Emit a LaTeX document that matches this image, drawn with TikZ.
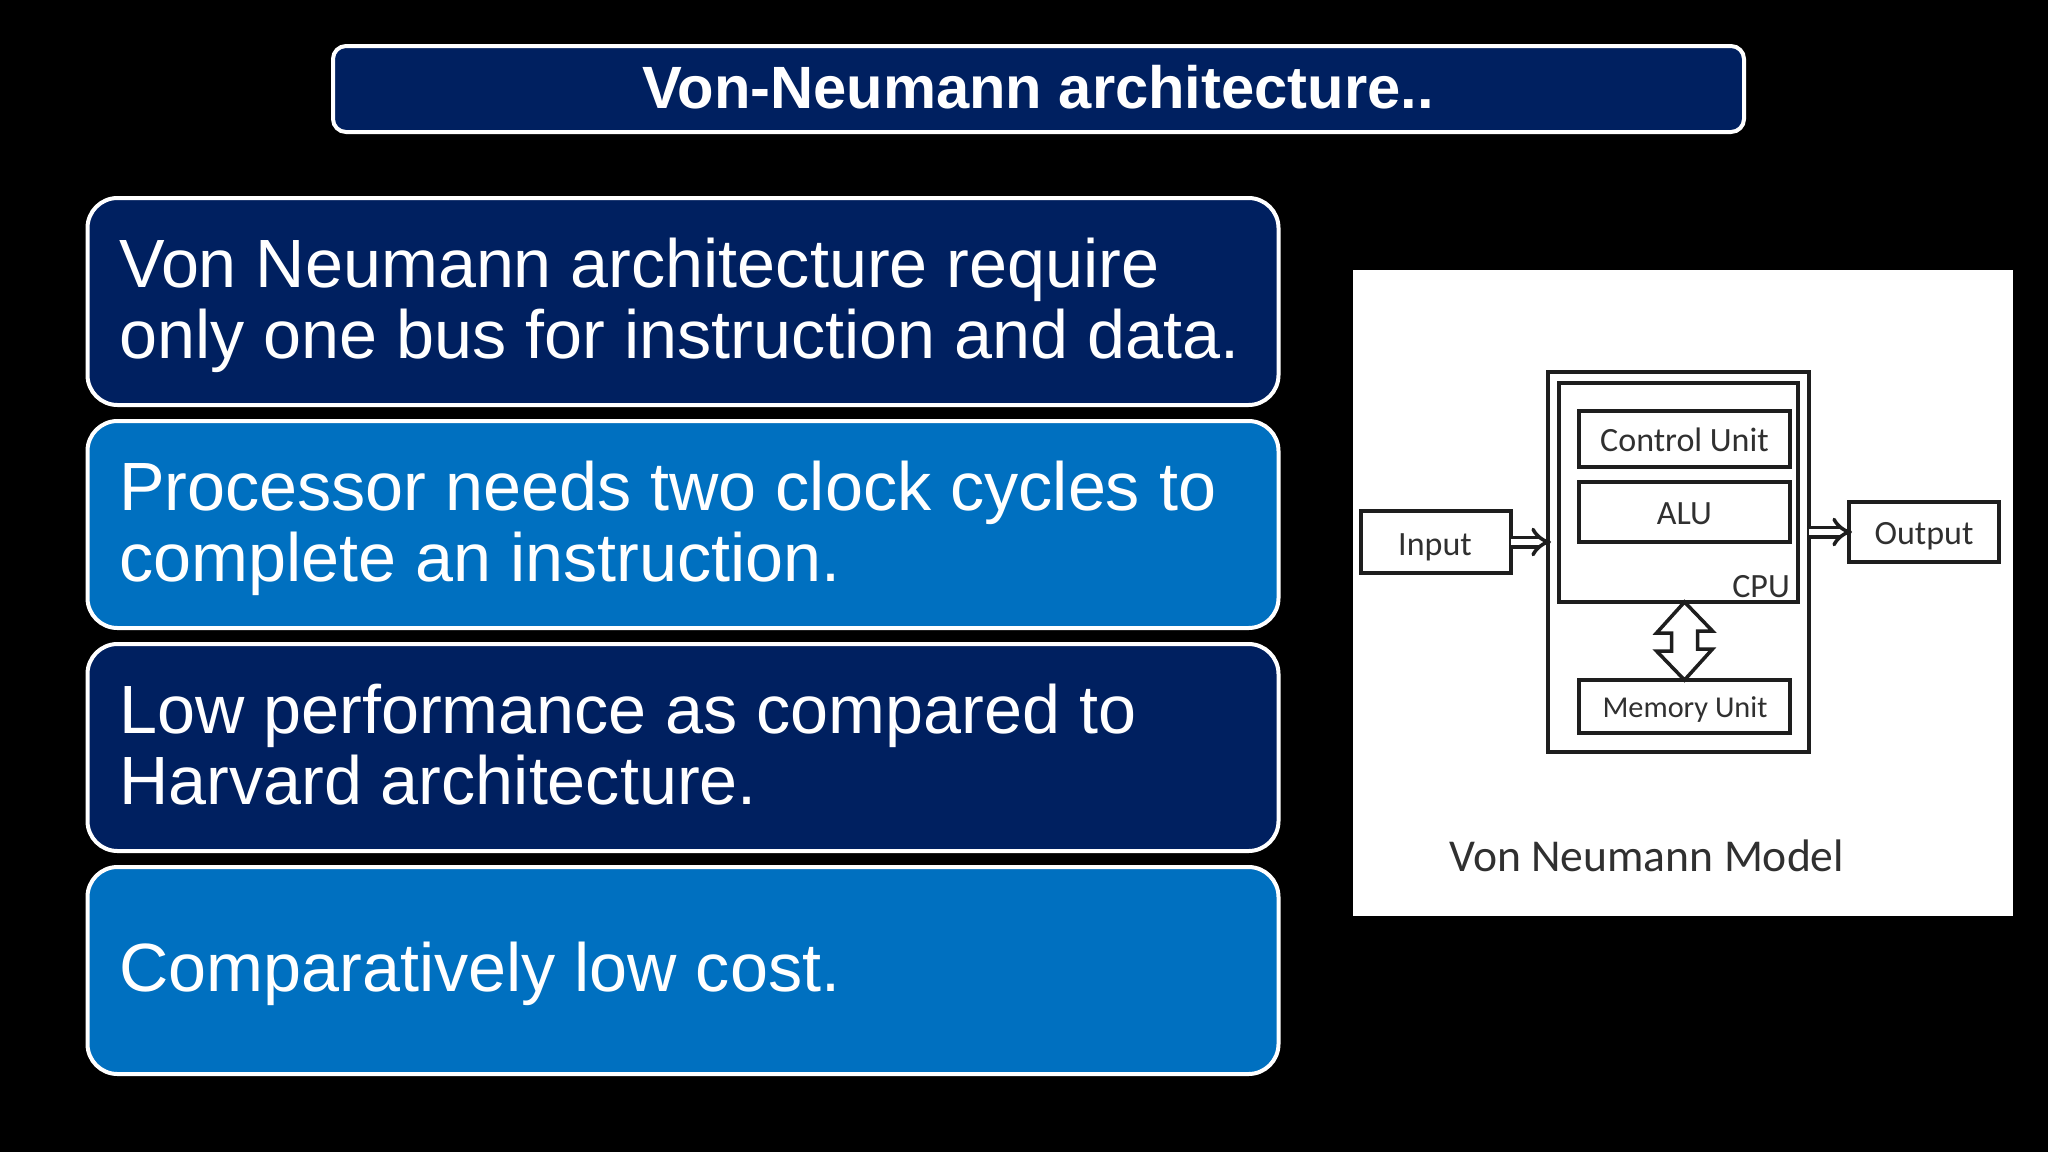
\documentclass[tikz,border=0pt]{standalone}
\usepackage{fontspec}
\setmainfont{Liberation Sans}
\newfontfamily\figfont{Carlito}
\usetikzlibrary{arrows.meta}
\definecolor{navy}{HTML}{002060}
\definecolor{midblue}{HTML}{0070C0}
\definecolor{figink}{HTML}{1E1E1E}
\definecolor{figtext}{HTML}{303030}
\tikzset{
  x=1pt,y=-1pt,
  panel/.style={draw=white,line width=4pt,rounded corners=30pt,inner sep=0pt,outer sep=0pt,minimum width=1191pt,minimum height=207pt},
  navypanel/.style={panel,fill=navy},
  bluepanel/.style={panel,fill=midblue},
  titlebox/.style={draw=white,line width=4pt,rounded corners=13pt,fill=navy,inner sep=0pt,outer sep=0pt,minimum width=1411pt,minimum height=86pt},
  paneltext/.style={text=white,anchor=base west,inner sep=0pt,align=left,font=\fontsize{68.3}{71.5}\selectfont},
  figbox/.style={draw=figink,line width=3.5pt,fill=white,inner sep=0pt,outer sep=0pt},
  figlabel/.style={text=figtext,inner sep=0pt,font=\figfont\fontsize{34}{40}\selectfont},
  flow/.style={draw=figink,double=white,double distance=6pt,line width=3.5pt,shorten >=-3pt,-{Implies[length=14pt,width=26pt]}},
  bigarrow/.style={draw=figink,fill=white,line width=3.5pt,line join=miter},
}
\begin{document}
\begin{tikzpicture}
\useasboundingbox (0,0) rectangle (2048,1152);
\fill[black] (0,0) rectangle (2048,1152);
% title
\node[titlebox] (title) at (1038.5,89) {};
\node[text=white,inner sep=0pt,anchor=base,font=\bfseries\fontsize{59.7}{66}\selectfont] (titletext) at (1038,108) {Von-Neumann architecture..};
% panels
\node[navypanel] (p1) at (683,301.5) {};
\node[bluepanel] (p2) at (683,524.5) {};
\node[navypanel] (p3) at (683,747.5) {};
\node[bluepanel] (p4) at (683,970.5) {};
\node[paneltext] (t1a) at (119,287) {Von Neumann architecture require};
\node[paneltext] (t1b) at (119,358) {only one bus for instruction and data.};
\node[paneltext] (t2a) at (119,510) {Processor needs two clock cycles to};
\node[paneltext] (t2b) at (119,581) {complete an instruction.};
\node[paneltext] (t3a) at (119,733) {Low performance as compared to};
\node[paneltext] (t3b) at (119,804) {Harvard architecture.};
\node[paneltext] (t4) at (119,991) {Comparatively low cost.};
% figure
\node[fill=white,inner sep=0pt,outer sep=0pt,minimum width=660pt,minimum height=646pt] (fig) at (1683,593) {};
\node[figbox,minimum width=261pt,minimum height=380pt] (outer) at (1678.5,562) {};
\node[figbox,minimum width=239pt,minimum height=219pt] (cpu) at (1678.5,492.5) {};
\node[figbox,minimum width=211pt,minimum height=56pt] (cu) at (1684.5,439) {};
\node[figbox,minimum width=211pt,minimum height=60pt] (alu) at (1684.5,512) {};
\node[figbox,minimum width=211pt,minimum height=53pt] (mem) at (1684.5,706.5) {};
\node[figbox,minimum width=150pt,minimum height=62pt] (input) at (1436,542) {};
\node[figbox,minimum width=150pt,minimum height=60pt] (output) at (1924,532) {};
\node[figlabel,anchor=base] (cutext) at (1684.5,451) {Control Unit};
\node[figlabel,anchor=base] (alutext) at (1684.5,524) {ALU};
\node[figlabel,anchor=base,font=\figfont\fontsize{30.3}{36}\selectfont] (memtext) at (1685,717) {Memory Unit};
\node[figlabel,anchor=base] (intext) at (1435,555) {Input};
\node[figlabel,anchor=base] (outtext) at (1924,544) {Output};
\node[figlabel,anchor=base east] (cputext) at (1790,597) {CPU};
\node[figlabel,anchor=base west,font=\figfont\fontsize{45.6}{50}\selectfont] (model) at (1449,871) {Von Neumann Model};
\draw[flow] (input.east) -- (input.east -| outer.west);
\draw[flow] (output.west -| outer.east) -- (output.west);
\coordinate (bt) at (mem.north |- cpu.south);
\draw[bigarrow] (bt) -- ++(28,29) -- ++(-15,0) -- ++(0,18) -- ++(15,0)
  -- (mem.north) -- ++(-28,-29) -- ++(15,0) -- ++(0,-18) -- ++(-15,0) -- cycle;
\end{tikzpicture}
\end{document}
